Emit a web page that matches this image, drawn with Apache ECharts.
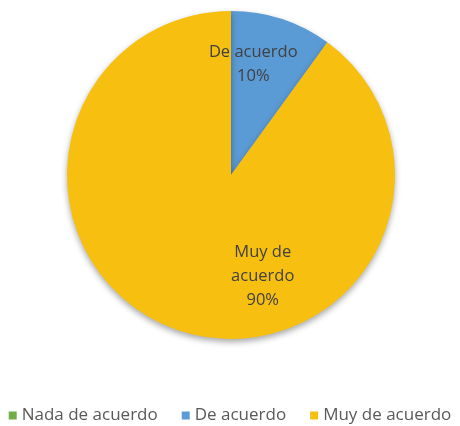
<!DOCTYPE html>
<html><head><meta charset="utf-8">
<script src="https://cdn.jsdelivr.net/npm/echarts@6/dist/echarts.min.js"></script>
<style>html,body{margin:0;padding:0;background:#fff}#c{width:460px;height:426px}</style>
</head><body><div id="c"></div>
<script>
var categories = ["Nada de acuerdo", "De acuerdo", "Muy de acuerdo"];
var values = [0, 10, 90];
var colors = ["#70AD47", "#5B9BD5", "#F7C010"];
var labelOffsets = [[0, 0], [-4, -30], [58, 20]];

var chart = echarts.init(document.getElementById('c'));
var data = categories.map(function (n, i) {
  return {
    name: n, value: values[i],
    itemStyle: { color: colors[i] },
    label: { show: values[i] > 0, offset: labelOffsets[i] }
  };
});
chart.setOption({
  animation: false,
  legend: {
    top: 402, left: 'center', itemWidth: 8, itemHeight: 8, itemGap: 24,
    icon: 'rect',
    textStyle: { fontFamily: 'Open Sans', fontSize: 17, color: '#595959' },
    data: categories
  },
  series: [{
    type: 'pie',
    center: [231, 175], radius: 164,
    startAngle: 90, clockwise: true,
    avoidLabelOverlap: false,
    itemStyle: { shadowColor: 'rgba(0,0,0,0.35)', shadowBlur: 6, shadowOffsetY: 3 },
    label: {
      position: 'inside',
      formatter: function (p) { return (p.name === 'Muy de acuerdo' ? 'Muy de\nacuerdo' : p.name) + '\n' + p.value + '%'; },
      fontFamily: 'Open Sans', fontSize: 16.5, lineHeight: 24, color: '#404040'
    },
    labelLine: { show: false },
    data: data
  }]
});
</script></body></html>
